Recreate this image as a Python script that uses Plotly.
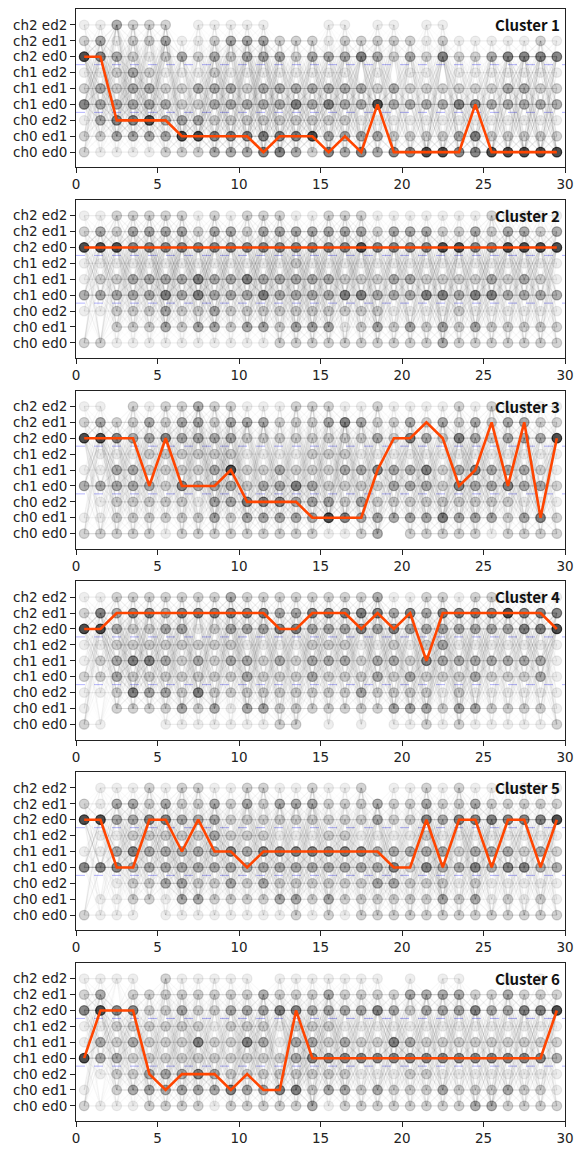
import plotly.graph_objects as go
from plotly.subplots import make_subplots

# ---------------- data ----------------
state_labels = ["ch0 ed0", "ch0 ed1", "ch0 ed2", "ch1 ed0", "ch1 ed1",
                "ch1 ed2", "ch2 ed0", "ch2 ed1", "ch2 ed2"]
time_steps = [0.5, 1.5, 2.5, 3.5, 4.5, 5.5, 6.5, 7.5, 8.5, 9.5,
              10.5, 11.5, 12.5, 13.5, 14.5, 15.5, 16.5, 17.5, 18.5, 19.5,
              20.5, 21.5, 22.5, 23.5, 24.5, 25.5, 26.5, 27.5, 28.5, 29.5]
x_ticks = [0, 5, 10, 15, 20, 25, 30]
cluster_titles = ["Cluster 1", "Cluster 2", "Cluster 3", "Cluster 4", "Cluster 5", "Cluster 6"]

# representative (highlighted) path of each cluster, state index per time step
path_c1 = [6, 6, 2, 2, 2, 2, 1, 1, 1, 1, 1, 0, 1, 1, 1, 0, 1, 0, 3, 0, 0, 0, 0, 0, 3, 0, 0, 0, 0, 0]
path_c2 = [6, 6, 6, 6, 6, 6, 6, 6, 6, 6, 6, 6, 6, 6, 6, 6, 6, 6, 6, 6, 6, 6, 6, 6, 6, 6, 6, 6, 6, 6]
path_c3 = [6, 6, 6, 6, 3, 6, 3, 3, 3, 4, 2, 2, 2, 2, 1, 1, 1, 1, 4, 6, 6, 7, 6, 3, 4, 7, 3, 7, 1, 6]
path_c4 = [6, 6, 7, 7, 7, 7, 7, 7, 7, 7, 7, 7, 6, 6, 7, 7, 7, 6, 7, 6, 7, 4, 7, 7, 7, 7, 7, 7, 7, 6]
path_c5 = [6, 6, 3, 3, 6, 6, 4, 6, 4, 4, 3, 4, 4, 4, 4, 4, 4, 4, 4, 3, 3, 6, 3, 6, 6, 3, 6, 6, 3, 6]
path_c6 = [3, 6, 6, 6, 2, 1, 2, 2, 2, 1, 2, 1, 1, 6, 3, 3, 3, 3, 3, 3, 3, 3, 3, 3, 3, 3, 3, 3, 3, 6]

# occupancy darkness (0 = none .. 5 = darkest), rows top (ch2 ed2) to bottom (ch0 ed0)
density_c1 = [
    "113222011111000110110110000000",
    "231223112333222122222121111121",
    "543212323233323334323242234444",
    "112321112111111110101101111111",
    "232332233323333333232222223322",
    "433333223333343433533334433333",
    "134453332222222221111111111111",
    "223333554444445333322223422222",
    "211112223334432434344554455555",
]
density_c2 = [
    "112222212122211222111111121111",
    "232333323323333333233322323323",
    "555444444444444445444455445555",
    "111111111111121111111111111111",
    "122333343343333322233222232321",
    "333334343334333344333443443333",
    "112223223222222222211112111111",
    "002223233233233312323232322222",
    "221111111111222222222232222222",
]
density_c3 = [
    "110212232211122211211112121111",
    "232232332333222343223232323322",
    "554334333322222222324324323335",
    "011122222211112221111111111111",
    "113322223522322233433423433321",
    "333332433323343222233324334332",
    "012222213344433323222222222111",
    "112222223233333543333343332342",
    "222221222222222112302222212222",
]
density_c4 = [
    "112222222322222222311221221111",
    "243443444444334444434344445444",
    "553223312333443334343333333445",
    "112222222211112221121231111111",
    "123443232332323332332433333331",
    "223222222232223222323222322231",
    "112433242222222223222212111111",
    "102222323133222222233323322221",
    "210001111111220101011212111112",
]
density_c5 = [
    "011121221122112112011212111111",
    "213323223232333222322322322222",
    "553344333222222222322434444445",
    "011222223222111221111211111111",
    "113433333434444444333332333232",
    "444333333333333333342433434433",
    "001223322323222222332221211111",
    "011221332222332322222232312121",
    "211101111111121212222222222222",
]
density_c6 = [
    "111102111110111111101011001010",
    "230222222223222322223333223222",
    "454422322333443333432333433445",
    "112222221222122211111111111111",
    "132322242243133232243222222222",
    "533222222222234444444444444443",
    "012233343222222221112211111111",
    "102333333433442332322232223221",
    "211122221222223122222222332222",
]

paths = [path_c1, path_c2, path_c3, path_c4, path_c5, path_c6]
densities = [density_c1, density_c2, density_c3, density_c4, density_c5, density_c6]

# ---------------- figure ----------------
n = len(paths)
fig = make_subplots(rows=n, cols=1, vertical_spacing=32.5 / 1112)

marker_alpha = {1: 0.08, 2: 0.2, 3: 0.36, 4: 0.55, 5: 0.82}

for i, (path, grid) in enumerate(zip(paths, densities)):
    row = i + 1
    lev = {8 - r: [int(c) for c in s] for r, s in enumerate(grid)}

    # faint transition lines between consecutive time steps
    buckets = {}
    nt = len(time_steps)
    for t in range(nt - 1):
        for a in range(9):
            la = lev[a][t]
            if la == 0:
                continue
            for b in range(9):
                lb = lev[b][t + 1]
                if lb == 0:
                    continue
                if a == b:
                    key = ("h", min(la, lb))
                else:
                    key = ("d", la * lb)
                xs, ys = buckets.setdefault(key, ([], []))
                xs += [time_steps[t], time_steps[t + 1], None]
                ys += [a, b, None]
    for (kind, w), (xs, ys) in sorted(buckets.items()):
        op = 0.07 * w if kind == "h" else min(0.0085 * w, 0.15)
        fig.add_trace(go.Scatter(x=xs, y=ys, mode="lines",
                                 line=dict(color=f"rgba(0,0,0,{op:.3f})", width=1.2),
                                 hoverinfo="skip", showlegend=False), row=row, col=1)

    # occupancy markers
    mx, my, fc, lc = [], [], [], []
    for s in range(9):
        for t in range(nt):
            v = lev[s][t]
            if v == 0:
                continue
            a = marker_alpha[v]
            mx.append(time_steps[t]); my.append(s)
            fc.append(f"rgba(40,40,40,{a:.3f})")
            lc.append(f"rgba(0,0,0,{min(a * 0.9, 1):.3f})")
    fig.add_trace(go.Scatter(x=mx, y=my, mode="markers",
                             marker=dict(size=9.5, color=fc, line=dict(color=lc, width=1.3)),
                             hoverinfo="skip", showlegend=False), row=row, col=1)

    # highlighted path
    fig.add_trace(go.Scatter(x=time_steps, y=path, mode="lines",
                             line=dict(color="#FF4500", width=2.6),
                             hoverinfo="skip", showlegend=False), row=row, col=1)

    xa = "x" if row == 1 else f"x{row}"
    ya = "y" if row == 1 else f"y{row}"
    for yv in (2.5, 5.5):
        fig.add_shape(type="line", xref=f"{xa} domain", yref=ya, x0=0, x1=1, y0=yv, y1=yv,
                      line=dict(color="rgba(130,130,255,0.6)", width=1, dash="dash"),
                      layer="below")
    fig.add_annotation(text=f"<b>{cluster_titles[i]}</b>", xref=f"{xa} domain", yref=f"{ya} domain",
                       x=1, y=1, xanchor="right", yanchor="top", xshift=-3, yshift=-3,
                       showarrow=False,
                       font=dict(family="Noto Sans CJK JP, Noto Sans", size=15, color="#111"))

    fig.update_xaxes(range=[0, 30], tickvals=x_ticks, ticks="outside", ticklen=5, tickwidth=1,
                     tickcolor="#222", showline=True, linecolor="#222", linewidth=1, mirror=True,
                     showgrid=False, zeroline=False, automargin=False, ticklabeloverflow="allow",
                     tickfont=dict(family="DejaVu Sans", size=13.5, color="#222"), row=row, col=1)
    fig.update_yaxes(range=[-0.95, 9], tickvals=list(range(9)), ticktext=state_labels,
                     ticks="outside", ticklen=5, tickwidth=1, tickcolor="#222",
                     showline=True, linecolor="#222", linewidth=1, mirror=True,
                     showgrid=False, zeroline=False, automargin=False,
                     tickfont=dict(family="DejaVu Sans", size=13.5, color="#222"), row=row, col=1)

# the page body adds an 8px margin around the figure, so it is sized to fit the window without scrolling
fig.update_layout(width=569, height=1137, margin=dict(l=68, r=12, t=1, b=24, autoexpand=False),
                  plot_bgcolor="white", paper_bgcolor="white", showlegend=False)

fig.write_html("out.html")
